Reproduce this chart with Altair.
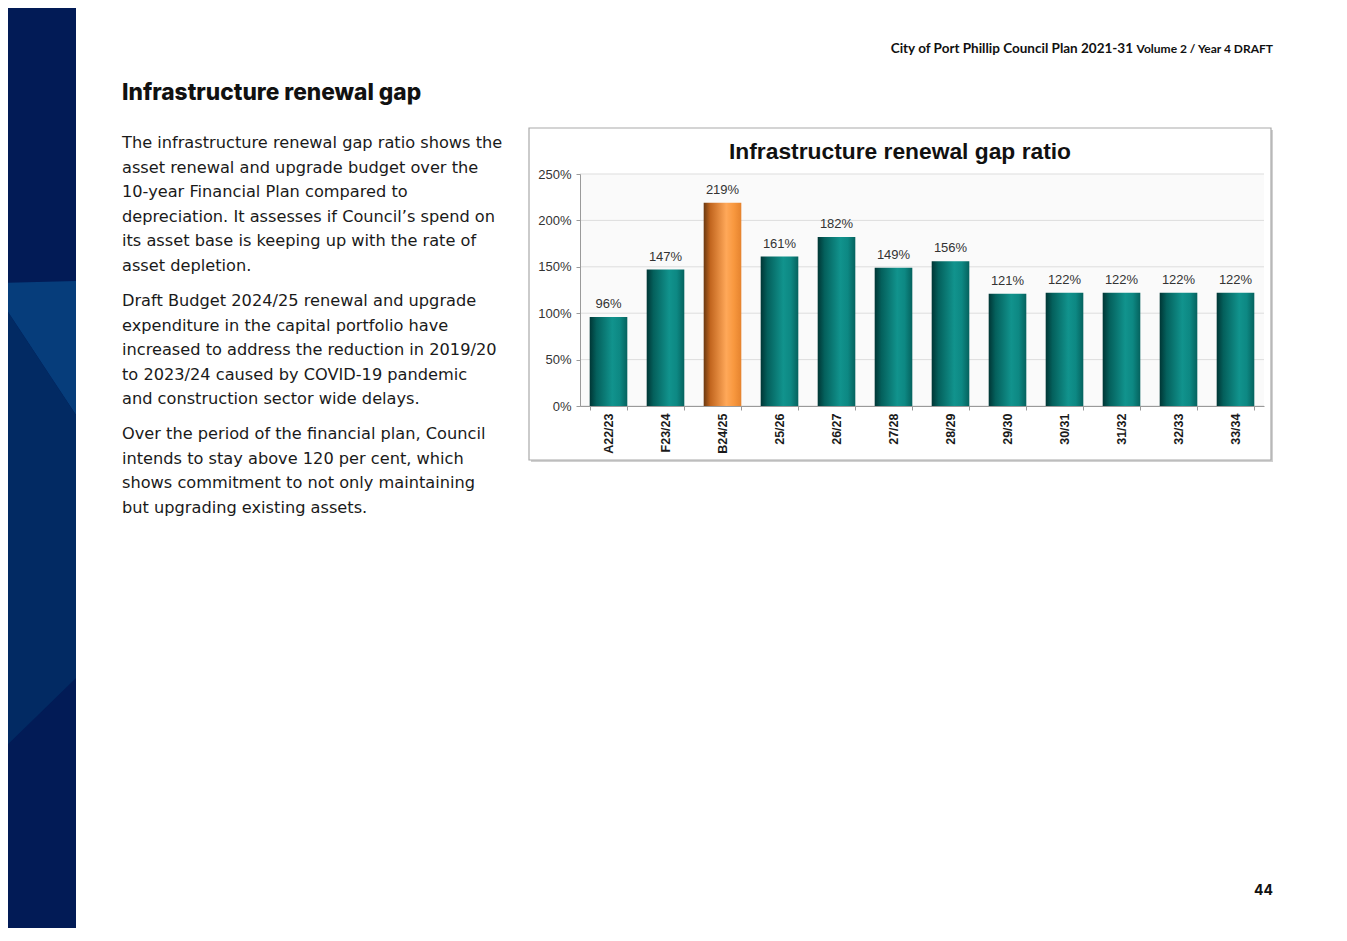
import altair as alt
import pandas as pd

# ---------------- data ----------------
years = ["A22/23", "F23/24", "B24/25", "25/26", "26/27", "27/28",
         "28/29", "29/30", "30/31", "31/32", "32/33", "33/34"]
ratios = [96, 147, 219, 161, 182, 149, 156, 121, 122, 122, 122, 122]
highlight = [False, False, True, False, False, False,
             False, False, False, False, False, False]
y_ticks = [0, 50, 100, 150, 200, 250]

chart_title = "Infrastructure renewal gap ratio"
page_heading = "Infrastructure renewal gap"
header_main = "City of Port Phillip Council Plan 2021-31"
header_sub = "Volume 2 / Year 4 DRAFT"
page_number = "44"
para1 = ["The infrastructure renewal gap ratio shows the",
         "asset renewal and upgrade budget over the",
         "10-year Financial Plan compared to",
         "depreciation. It assesses if Council\u2019s spend on",
         "its asset base is keeping up with the rate of",
         "asset depletion."]
para2 = ["Draft Budget 2024/25 renewal and upgrade",
         "expenditure in the capital portfolio have",
         "increased to address the reduction in 2019/20",
         "to 2023/24 caused by COVID-19 pandemic",
         "and construction sector wide delays."]
para3 = ["Over the period of the financial plan, Council",
         "intends to stay above 120 per cent, which",
         "shows commitment to not only maintaining",
         "but upgrading existing assets."]

df = pd.DataFrame({"year": years, "ratio": ratios, "hl": highlight})
grid_df = pd.DataFrame({"v": y_ticks})
one = pd.DataFrame({"k": [0]})

# page layout (plot area origin in page px)
OX, OY = 580, 174
PW, PH = 684, 232

def px(x):
    return x - OX

def py(y):
    return y - OY

# decorative side band shapes (page px)
band_light = pd.DataFrame({"x": [px(0), px(76)], "y": [py(283), py(281)], "y2": [py(300), py(415)]})
band_mid = pd.DataFrame({"x": [px(0), px(76)], "y": [py(300), py(415)], "y2": [py(752), py(678)]})

SANS = "Liberation Sans"

# ---------------- layers ----------------
band_base = alt.Chart(one).mark_rect(color="#021b56").encode(
    x=alt.value(px(0)), x2=alt.value(px(76)), y=alt.value(py(0)), y2=alt.value(py(941)))
band_l = alt.Chart(band_light).mark_area(color="#063d7b").encode(
    x=alt.X("x:Q", scale=None), y=alt.Y("y:Q", scale=None), y2="y2:Q")
band_m = alt.Chart(band_mid).mark_area(color="#022a63").encode(
    x=alt.X("x:Q", scale=None), y=alt.Y("y:Q", scale=None), y2="y2:Q")

box_shadow = alt.Chart(one).mark_rect(color="#d0d0d0").encode(
    x=alt.value(px(531)), x2=alt.value(px(1273)), y=alt.value(py(130)), y2=alt.value(py(462)))
box = alt.Chart(one).mark_rect(fill="white", stroke="#a9a9a9", strokeWidth=1.2).encode(
    x=alt.value(px(529)), x2=alt.value(px(1271)), y=alt.value(py(128)), y2=alt.value(py(460)))
plot_bg = alt.Chart(one).mark_rect(color="#fafafa").encode(
    x=alt.value(0), x2=alt.value(PW), y=alt.value(0), y2=alt.value(PH))

grid = alt.Chart(grid_df).mark_rule(color="#dddddd", strokeWidth=1).encode(
    y=alt.Y("v:Q", scale=alt.Scale(domain=[0, 250], nice=False)),
    x=alt.value(0), x2=alt.value(PW))

teal = alt.LinearGradient(
    gradient="linear", x1=0, x2=1, y1=0, y2=0,
    stops=[alt.GradientStop(color="#003635", offset=0),
           alt.GradientStop(color="#04605c", offset=0.18),
           alt.GradientStop(color="#11938d", offset=0.6),
           alt.GradientStop(color="#0d8883", offset=0.8),
           alt.GradientStop(color="#05625e", offset=1)])
orange = alt.LinearGradient(
    gradient="linear", x1=0, x2=1, y1=0, y2=0,
    stops=[alt.GradientStop(color="#6a3810", offset=0),
           alt.GradientStop(color="#c2661f", offset=0.18),
           alt.GradientStop(color="#ffa859", offset=0.6),
           alt.GradientStop(color="#f8983f", offset=0.8),
           alt.GradientStop(color="#e5832e", offset=1)])

x_enc = alt.X("year:N", sort=years,
              scale=alt.Scale(paddingInner=0.34, paddingOuter=0.17),
              axis=alt.Axis(title=None, labelAngle=270, labelFont=SANS, labelFontSize=12.5,
                            labelFontWeight="bold", labelColor="#1a1a1a", labelPadding=3,
                            tickBand="extent", tickSize=4, tickColor="#9a9a9a",
                            domainColor="#9a9a9a", grid=False, zindex=1))
y_enc = alt.Y("ratio:Q", scale=alt.Scale(domain=[0, 250], nice=False),
              axis=alt.Axis(title=None, values=y_ticks, labelExpr="datum.value + '%'",
                            labelFont=SANS, labelFontSize=13, labelColor="#333333",
                            labelPadding=5, tickSize=4, tickColor="#9a9a9a",
                            domainColor="#9a9a9a", grid=False, zindex=1))

bars_teal = alt.Chart(df).transform_filter("!datum.hl").mark_bar(color=teal).encode(x=x_enc, y=y_enc)
bars_orange = alt.Chart(df).transform_filter("datum.hl").mark_bar(color=orange).encode(x=x_enc, y=y_enc)

bar_labels = alt.Chart(df).transform_calculate(lbl="datum.ratio + '%'").mark_text(
    font=SANS, fontSize=13, color="#333333", baseline="bottom", dy=-6
).encode(x=alt.X("year:N", sort=years), y=alt.Y("ratio:Q"), text="lbl:N")

title_t = alt.Chart(one).mark_text(font=SANS, fontSize=22.8, fontWeight="bold", color="#111111",
                                   align="center", baseline="middle").encode(
    x=alt.value(px(900)), y=alt.value(py(152)), text=alt.value(chart_title))

header1 = alt.Chart(one).mark_text(font="Lato", fontSize=13.5, fontWeight="bold", color="#111111",
                                   align="right", baseline="alphabetic").encode(
    x=alt.value(px(1133)), y=alt.value(py(53)), text=alt.value(header_main))
header2 = alt.Chart(one).mark_text(font="Lato", fontSize=12, fontWeight="bold", color="#111111",
                                   align="right", baseline="alphabetic").encode(
    x=alt.value(px(1273)), y=alt.value(py(53)), text=alt.value(header_sub))

heading = alt.Chart(one).mark_text(font="Inter", fontSize=22.7, fontWeight=800, color="#111111",
                                   align="left", baseline="alphabetic").encode(
    x=alt.value(px(122)), y=alt.value(py(100)), text=alt.value(page_heading))

def para(lines, y_first):
    return alt.Chart(one).mark_text(font="DejaVu Sans", fontSize=16.2, color="#1a1a1a",
                                    align="left", baseline="alphabetic", lineHeight=24.6).encode(
        x=alt.value(px(122)), y=alt.value(py(y_first)), text=alt.value(lines))

p1 = para(para1, 148)
p2 = para(para2, 306)
p3 = para(para3, 439)

pnum = alt.Chart(one).mark_text(font="Inter", fontSize=14, fontWeight="bold", color="#111111",
                                align="right", baseline="middle").encode(
    x=alt.value(px(1273)), y=alt.value(py(891)), text=alt.value(page_number))

chart = alt.layer(
    band_base, band_l, band_m, box_shadow, box, plot_bg, grid,
    bars_teal, bars_orange, bar_labels, title_t,
    header1, header2, heading, p1, p2, p3, pnum
).properties(
    width=PW, height=PH,
    autosize=alt.AutoSizeParams(type="none"),
    padding={"left": OX - 8, "top": OY - 8, "right": 1331 - (OX - 8) - PW, "bottom": 920 - (OY - 8) - PH},
    background="white"
).configure_view(strokeWidth=0)

chart.save("out.html", embed_options={"renderer": "svg", "actions": False})
